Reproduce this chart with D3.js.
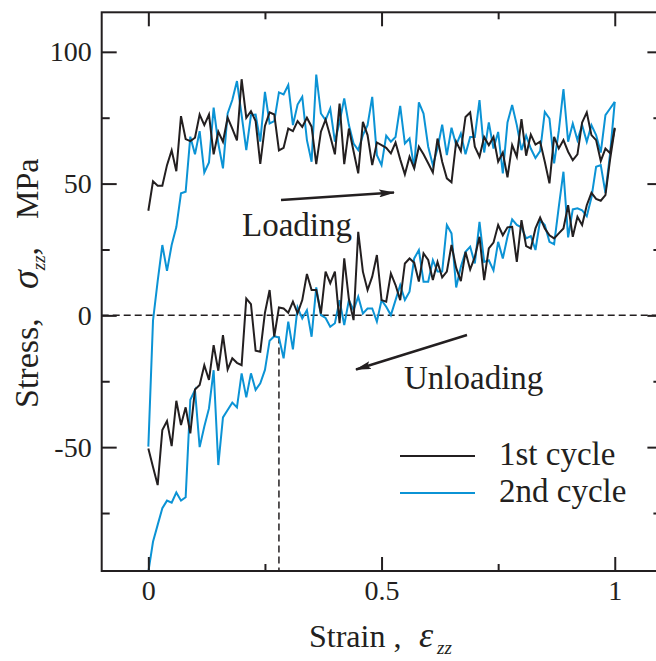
<!DOCTYPE html>
<html>
<head>
<meta charset="utf-8">
<script src="https://cdn.jsdelivr.net/npm/d3@7/dist/d3.min.js"></script>
<style>
  html, body { margin: 0; padding: 0; background: #fff; }
  svg { display: block; }
  text { font-family: "Liberation Serif", "Times New Roman", serif; fill: #231f20; }
</style>
</head>
<body>
<svg id="chart" width="656" height="661"></svg>
<script>
// ---------------- data ----------------
const strain = [0,0.01,0.02,0.03,0.04,0.05,0.06,0.07,0.08,0.09,0.1,0.11,0.12,0.13,0.14,0.15,0.16,0.17,0.18,0.19,0.2,0.21,0.22,0.23,0.24,0.25,0.26,0.27,0.28,0.29,0.3,0.31,0.32,0.33,0.34,0.35,0.36,0.37,0.38,0.39,0.4,0.41,0.42,0.43,0.44,0.45,0.46,0.47,0.48,0.49,0.5,0.51,0.52,0.53,0.54,0.55,0.56,0.57,0.58,0.59,0.6,0.61,0.62,0.63,0.64,0.65,0.66,0.67,0.68,0.69,0.7,0.71,0.72,0.73,0.74,0.75,0.76,0.77,0.78,0.79,0.8,0.81,0.82,0.83,0.84,0.85,0.86,0.87,0.88,0.89,0.9,0.91,0.92,0.93,0.94,0.95,0.96,0.97,0.98,0.99,1];

// 1st cycle, loading (MPa)
const cycle1Loading = [39.7,50.9,49.2,49.2,57.0,62.6,54.7,75.6,66.9,66.1,67.4,76.2,72.2,76.2,61.1,69.7,65.9,75.0,70.9,66.4,89.6,75.0,77.5,73.7,57.5,71.9,77.0,76.2,62.6,63.6,70.9,69.9,73.7,71.5,75.0,71.6,57.4,69.7,74.3,68.0,61.1,80.4,57.4,70.9,62.3,53.9,73.4,68.4,57.0,65.6,64.6,63.6,61.5,65.6,59.2,53.5,60.2,55.8,64.0,61.1,57.7,54.2,67.1,58.3,52.0,50.5,65.9,62.3,75.3,77.0,64.0,60.2,67.7,64.6,67.7,58.3,61.8,52.4,64.6,60.2,74.5,60.6,68.6,64.8,65.9,58.3,50.1,67.7,63.3,66.5,62.1,58.9,61.1,73.2,77.0,68.4,66.5,58.6,63.3,61.5,71.2];

// 1st cycle, unloading (MPa), listed by increasing strain
const cycle1Unloading = [-50.5,-57.5,-64.4,-43.5,-40.1,-49.6,-32.4,-41.6,-34.9,-44.8,-28.1,-26.4,-18.9,-24.5,-11.3,-21.0,-7.5,-20.5,-16.3,-18.0,-18.9,6.4,4.3,-13.4,-13.8,1.0,9.6,-8.1,3.0,2.6,1.0,5.2,0.8,5.8,15.7,9.6,9.6,0.7,16.6,12.2,16.6,-3.0,21.6,6.1,-1.8,31.7,16.6,9.6,14.7,22.9,5.8,5.2,15.9,11.5,5.8,19.7,21.6,20.0,12.8,23.5,21.0,13.4,20.3,14.4,16.6,26.7,18.0,13.0,24.1,17.4,22.2,29.8,13.4,25.4,27.6,34.3,30.4,33.4,33.6,20.3,36.1,26.3,25.4,33.0,37.1,33.0,30.4,29.2,31.1,33.0,41.8,29.8,37.4,34.3,41.8,46.5,44.2,43.5,45.6,59.2,70.9];

// 2nd cycle, loading (MPa)
const cycle2Loading = [-49.8,-2.0,13.0,26.7,16.9,26.7,33.5,46.3,46.9,67.8,61.1,69.9,54.2,58.0,78.8,65.2,55.8,76.6,81.7,88.9,76.0,62.7,76.0,76.2,65.9,84.8,72.8,73.7,84.6,83.8,87.4,72.2,80.0,82.9,66.5,58.3,91.4,76.6,74.1,78.5,65.9,73.4,82.3,72.2,65.2,62.7,68.4,72.2,82.9,60.8,57.0,68.2,65.9,67.7,79.5,65.2,67.1,55.8,80.8,76.6,64.0,57.0,63.3,72.4,60.8,71.2,64.6,69.0,61.1,67.7,67.7,81.7,61.8,73.2,63.3,69.6,53.9,73.2,79.8,72.2,62.7,68.2,63.3,59.7,62.3,77.2,74.7,57.7,70.0,85.9,65.9,72.8,66.5,72.2,65.9,72.2,68.4,61.8,76.0,78.5,81.0];

// 2nd cycle, unloading (MPa), listed by increasing strain
const cycle2Unloading = [-97.3,-85.9,-79.5,-73.2,-70.3,-71.1,-67.2,-70.3,-69.0,-32.0,-28.3,-50.0,-42.2,-35.3,-20.8,-56.8,-38.7,-35.9,-33.1,-34.9,-22.0,-31.1,-22.0,-28.3,-25.8,-20.7,-9.6,-7.9,-8.4,-16.3,-2.4,-12.9,3.0,-1.2,2.0,-8.1,10.6,0.1,-1.0,-4.3,-3.0,5.8,-3.7,5.8,2.0,7.1,0.7,2.6,2.6,-2.4,5.8,3.3,0.1,5.8,11.5,5.8,9.0,21.6,24.8,12.8,12.8,21.0,16.6,16.6,34.3,31.1,10.6,18.4,24.1,26.0,19.7,35.5,20.3,20.9,17.1,27.9,21.6,29.8,36.4,34.3,33.4,29.2,30.1,24.8,36.1,34.3,27.9,27.0,41.2,54.5,29.6,40.2,40.6,39.9,37.6,44.7,56.4,57.0,46.5,61.4,81.0];

const seriesNames = ["1st cycle", "2nd cycle"];
const seriesColors = ["#231f20", "#0b93d5"];

const xMajorTicks = [0, 0.5, 1];
const xMajorLabels = ["0", "0.5", "1"];
const xMinorTicks = [0.25, 0.75];
const yMajorTicks = [-50, 0, 50, 100];
const yMajorLabels = ["-50", "0", "50", "100"];
const yMinorTicks = [-75, -25, 25, 75];

const xDomain = [-0.1, 1.1];
const yDomain = [-97, 115];
const yieldStrain = 0.28;   // vertical dashed marker
const yieldStress = -8;

// ---------------- layout ----------------
const svg = d3.select("#chart");
const padL = 101.7, padR = 661.4, padT = 12.3, padB = 571;
const x = d3.scaleLinear().domain(xDomain).range([padL, padR]);
const y = d3.scaleLinear().domain(yDomain).range([padB, padT]);
const ink = "#231f20";

// dashed reference lines
svg.append("line")
  .attr("x1", padL).attr("x2", padR)
  .attr("y1", y(0)).attr("y2", y(0))
  .attr("stroke", ink).attr("stroke-width", 1.5).attr("stroke-dasharray", "7,4");
svg.append("line")
  .attr("x1", x(yieldStrain)).attr("x2", x(yieldStrain))
  .attr("y1", y(yieldStress)).attr("y2", padB)
  .attr("stroke", ink).attr("stroke-width", 1.5).attr("stroke-dasharray", "7,4");

// curves
const line = d3.line().x((d, i) => x(strain[i])).y(d => y(d));
const curves = [
  { data: cycle2Loading, color: seriesColors[1] },
  { data: cycle2Unloading, color: seriesColors[1] },
  { data: cycle1Loading, color: seriesColors[0] },
  { data: cycle1Unloading, color: seriesColors[0] }
];
svg.append("g").selectAll("path").data(curves).join("path")
  .attr("d", d => line(d.data))
  .attr("fill", "none")
  .attr("stroke", d => d.color)
  .attr("stroke-width", 2)
  .attr("stroke-linejoin", "miter");

// axes
const fmtX = d => xMajorLabels[xMajorTicks.indexOf(d)];
const fmtY = d => yMajorLabels[yMajorTicks.indexOf(d)];

function styleAxis(g) {
  g.select(".domain").remove();
  g.selectAll(".tick line").attr("stroke", ink).attr("stroke-width", 2);
  g.selectAll(".tick text").attr("font-size", 28).attr("fill", ink)
    .attr("font-family", '"Liberation Serif", "Times New Roman", serif');
}

svg.append("g").attr("transform", `translate(0,${padB})`)
  .call(d3.axisBottom(x).tickValues(xMajorTicks).tickSize(-14).tickPadding(9).tickFormat(fmtX)).call(styleAxis);
svg.append("g").attr("transform", `translate(0,${padB})`)
  .call(d3.axisBottom(x).tickValues(xMinorTicks).tickSize(-7).tickFormat("")).call(styleAxis);
svg.append("g").attr("transform", `translate(0,${padT})`)
  .call(d3.axisTop(x).tickValues(xMajorTicks).tickSize(-14).tickFormat("")).call(styleAxis);
svg.append("g").attr("transform", `translate(0,${padT})`)
  .call(d3.axisTop(x).tickValues(xMinorTicks).tickSize(-7).tickFormat("")).call(styleAxis);

svg.append("g").attr("transform", `translate(${padL},0)`)
  .call(d3.axisLeft(y).tickValues(yMajorTicks).tickSize(-15).tickPadding(10).tickFormat(fmtY)).call(styleAxis);
svg.append("g").attr("transform", `translate(${padL},0)`)
  .call(d3.axisLeft(y).tickValues(yMinorTicks).tickSize(-8).tickFormat("")).call(styleAxis);
svg.append("g").attr("transform", `translate(${padR},0)`)
  .call(d3.axisRight(y).tickValues(yMajorTicks).tickSize(-14).tickFormat("")).call(styleAxis);
svg.append("g").attr("transform", `translate(${padR},0)`)
  .call(d3.axisRight(y).tickValues(yMinorTicks).tickSize(-8).tickFormat("")).call(styleAxis);

// frame
svg.append("rect")
  .attr("x", padL).attr("y", padT)
  .attr("width", padR - padL).attr("height", padB - padT)
  .attr("fill", "none").attr("stroke", ink).attr("stroke-width", 2);

// axis titles
const xt = svg.append("text").attr("y", 647).attr("font-size", 32);
xt.append("tspan").attr("x", 309).text("Strain ,");
xt.append("tspan").attr("x", 419).attr("font-style", "italic").attr("font-size", 36).text("ε");
xt.append("tspan").attr("x", 437).attr("dy", 7).attr("font-size", 19).attr("font-style", "italic").text("zz");

const yt = svg.append("text").attr("transform", "translate(38,0) rotate(-90)").attr("font-size", 34);
yt.append("tspan").attr("x", -408).text("Stress,");
yt.append("tspan").attr("x", -289).attr("font-style", "italic").attr("font-size", 38).text("σ");
yt.append("tspan").attr("dy", 7).attr("font-size", 19).attr("font-style", "italic").text("zz");
yt.append("tspan").attr("dy", -7).text(",");
yt.append("tspan").attr("x", -219).attr("font-size", 32).text("MPa");

// annotations with arrows
const defs = svg.append("defs");
defs.append("marker").attr("id", "arrow")
  .attr("viewBox", "0 0 16 8").attr("refX", 15).attr("refY", 4)
  .attr("markerWidth", 16).attr("markerHeight", 8).attr("markerUnits", "userSpaceOnUse")
  .attr("orient", "auto")
  .append("path").attr("d", "M0,0 L16,4 L0,8 L3,4 Z").attr("fill", ink);

svg.append("line").attr("x1", 281).attr("y1", 200).attr("x2", 394).attr("y2", 192.5)
  .attr("stroke", ink).attr("stroke-width", 2.4).attr("marker-end", "url(#arrow)");
svg.append("text").attr("x", 242).attr("y", 236).attr("font-size", 33).text("Loading");

svg.append("line").attr("x1", 467).attr("y1", 335).attr("x2", 356).attr("y2", 369.5)
  .attr("stroke", ink).attr("stroke-width", 2.4).attr("marker-end", "url(#arrow)");
svg.append("text").attr("x", 404).attr("y", 389).attr("font-size", 33).text("Unloading");

// legend
const legendY = [456, 493];
const lg = svg.append("g");
seriesNames.forEach((name, i) => {
  lg.append("line").attr("x1", 400).attr("x2", 475).attr("y1", legendY[i]).attr("y2", legendY[i])
    .attr("stroke", seriesColors[i]).attr("stroke-width", 2);
  lg.append("text").attr("x", 499).attr("y", legendY[i] + 9).attr("font-size", 33).text(name);
});
</script>
</body>
</html>
